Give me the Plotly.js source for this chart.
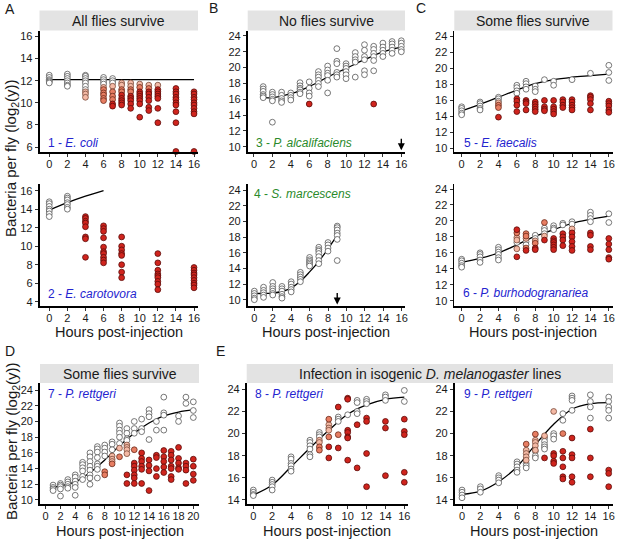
<!DOCTYPE html>
<html>
<head>
<meta charset="utf-8">
<script src="https://cdn.plot.ly/plotly-3.0.1.min.js"></script>
<style>html,body{margin:0;padding:0;background:#fff;}#chart{width:617px;height:540px;}</style>
</head>
<body>
<div id="chart"></div>
<script>
// ---------------- DATA ----------------
// Each series: list of [hour, [log2 bacteria values...]]
// W = surviving (white), P = light pink, S = salmon, R = red (dead flies)

// Panel 1 - E. coli
const p1W = [[0,[12.5,12.3,12.1,12.0,11.9,11.8]],[2,[12.6,12.4,12.2,12.0,11.8,11.6,11.5]],[4,[12.5,12.4,12.2,12.0,11.8,11.5,11.2]],[6,[12.3,12.1,11.9,11.7]],[7,[12.2,12.0,11.8]]];
const p1P = [[4,[11.0,10.8,10.5]],[6,[11.4]],[7,[11.5]],[8,[11.8,11.6]],[9,[11.8,11.5]],[10,[11.7]],[11,[11.6]],[12,[11.6]]];
const p1S = [[6,[11.2,10.9,10.7,10.4,10.2]],[7,[11.0,10.6,10.3]],[8,[11.2,11.0]],[9,[11.2,11.0]],[10,[11.4]],[11,[11.3]]];
const p1R = [[7,[9.9,9.7]],[8,[10.7,10.4,10.2,10.0,9.8]],[9,[10.6,10.4,10.2,9.9,9.5]],[10,[11.0,10.8,10.6,10.4,10.2,9.9,8.7]],[11,[11.0,10.8,10.5,10.2,9.6,9.3]],[12,[11.2,11.0,10.8,10.6,10.4,9.5,8.2]],[14,[11.3,11.0,10.8,10.5,10.3,10.0,9.8,9.2,8.2,5.6]],[16,[11.0,10.8,10.5,10.3,10.0,9.8,9.5,9.2,9.0,5.6]]];
const c1x = [0,16], c1y = [12.1,12.1];

// Panel 2 - E. carotovora
const p2W = [[0,[14.8,14.6,14.3,14.0,13.8,13.5,13.2]],[2,[15.4,15.2,15.0,14.7,14.5,14.2,14.0]]];
const p2R = [[4,[13.2,13.0,12.7,12.5,12.1,11.0,10.8,8.8]],[6,[12.2,11.9,11.6,10.9,9.9,9.4,9.2,8.8,8.5,8.2]],[8,[11.0,10.0,9.6,9.2,9.0,8.0,7.2,6.6]],[12,[9.2,8.2,7.4,7.0,6.8,6.6,6.2,5.9,5.3]],[16,[7.7,7.4,7.1,6.9,6.6,6.3,6.0,5.8,5.5]]];
const c2x = [0,2,4,6], c2y = [13.9,14.7,15.4,16.0];

// Panel 3 - P. alcalifaciens
const p3W = [[1,[17.6,17.3,17.0,16.6,16.4,16.2]],[2,[16.9,16.6,16.3,16.0,15.8,13.1]],[3,[16.9,16.5,16.1,15.8,15.6]],[4,[16.8,16.5,16.2,15.9]],[5,[18.1,17.7,17.4,17.2,16.9,16.7]],[6,[18.2,17.4,16.8,16.4]],[7,[19.5,19.1,18.8,18.4,18.0,17.6]],[8,[20.2,19.7,19.3,19.0,18.4,16.8]],[9,[22.4,20.8,20.5,19.4,19.1,18.8]],[10,[20.5,20.2,19.9,19.5,19.1,18.6]],[11,[21.9,21.4,21.0,20.7,18.8]],[12,[22.9,22.2,21.4,21.0,19.6,19.1]],[13,[22.7,22.3,21.8,21.4,20.9,19.6]],[14,[23.1,22.6,22.2,21.8,21.4]],[15,[23.3,23.0,22.6,22.2,21.8]],[16,[23.4,23.1,22.7,22.3,22.0]]];
const p3R = [[6,[15.4]],[13,[15.4]]];
const c3x = [1,2,3,4,5,6,8,10,12,14,16], c3y = [16.2,16.2,16.4,16.7,17.1,17.6,18.8,19.9,21.0,22.0,22.6];

// Panel 4 - S. marcescens
const p4W = [[0,[11.1,10.8,10.5,10.2,10.0]],[1,[11.6,11.2,10.9,10.6,10.3]],[2,[12.2,11.7,11.4,11.1,10.8,10.6]],[3,[11.7,11.4,11.1,10.7,10.4,10.2]],[4,[12.3,12.0,11.6,11.3,11.0]],[5,[13.5,13.2,12.9,12.6,12.3]],[6,[15.4,15.1,14.9,14.7,14.5,14.3]],[7,[16.7,16.4,16.2,15.9,15.5,15.0,14.6]],[8,[17.3,17.0,16.6,16.2]],[9,[19.4,19.2,18.9,18.5,18.2,17.7,15.0]]];
const c4x = [0,1,2,3,4,5,6,7,8,9], c4y = [10.8,10.8,10.85,11.05,11.5,12.35,13.55,14.9,16.5,18.2];

// Panel 5 - E. faecalis
const p5W = [[0,[15.2,15.0,14.7,14.4,14.2]],[2,[15.8,15.6,15.3,15.0,14.8]],[4,[16.4,16.2,15.9]],[6,[17.9,17.6,17.2,16.9]],[7,[18.4,18.1,17.7,17.4]],[8,[17.8,17.4,17.1]],[9,[18.6]],[10,[18.4,17.9]],[12,[18.6]],[14,[19.4]],[16,[20.4,19.5,18.5]]];
const p5P = [[4,[15.7]]];
const p5S = [[4,[15.4,15.1]]];
const p5R = [[4,[13.9]],[6,[16.2,15.9,15.4,14.6]],[7,[16.0,15.8,15.6,14.8]],[8,[15.8,15.5,15.2,14.9,14.6]],[9,[16.0,15.2,14.9,14.7]],[10,[16.0,15.2,14.9,14.6,14.3]],[11,[16.1,15.8,15.4,15.1]],[12,[16.1,15.8,15.4,15.1,14.8]],[14,[16.6,16.4,16.1,15.6,14.8]],[16,[15.9,15.6,15.3,14.8,14.5]]];
const c5x = [0,2,4,6,8,10,12,14,16], c5y = [14.7,15.5,16.4,17.3,18.1,18.6,18.9,19.1,19.3];

// Panel 6 - P. burhodogranariea
const p6W = [[0,[15.2,15.0,14.7,14.4,14.2]],[2,[16.0,15.8,15.5,15.1,14.8]],[4,[16.7,16.4,16.1,15.8,15.4,15.1]],[6,[17.3]],[7,[17.4,17.0]],[8,[18.2,17.8]],[9,[19.1,18.8,18.4]],[10,[19.4,19.1,18.9]],[11,[19.7,19.5]],[12,[19.9,19.6]],[14,[21.1,20.7,20.3,19.9]],[16,[20.9,19.8]]];
const p6P = [[6,[17.9,17.6,16.5]],[7,[17.8]],[8,[17.5]],[9,[18.1]],[12,[19.0]]];
const p6S = [[6,[18.5]],[7,[18.4,18.1,16.6]],[8,[17.2]],[9,[19.8]]];
const p6R = [[6,[18.9,15.5]],[7,[16.3]],[8,[16.6,16.4]],[9,[17.6]],[10,[17.8,17.5,17.3,17.0,16.7,16.4]],[11,[18.4,18.0,17.6,16.9]],[12,[18.5,18.0,17.4,16.8,16.3]],[14,[18.5,18.2,16.8,16.4]],[16,[17.8,17.1,16.4,15.4,15.2]]];
const c6x = [0,2,4,6,8,10,12,14,16], c6y = [14.8,15.3,16.0,17.0,18.1,18.9,19.7,20.2,20.6];

// Panel 7 - P. rettgeri (some flies survive)
const p7W = [[1,[11.9,11.6,11.4,11.2]],[2,[12.1,11.9,11.7,11.4,10.5]],[3,[12.6,12.3,12.0,11.7,11.5]],[4,[13.2,12.9,12.4,12.0,11.6,10.6]],[5,[14.8,14.5,14.1,13.7,13.0,12.6]],[6,[16.0,15.5,14.9,14.3,13.8,13.2,12.8,12.0]],[7,[16.8,16.5,16.1,15.4,14.6,14.3,13.9,12.8]],[8,[17.0,16.6,16.1,15.6]],[9,[17.4,17.1,16.4]],[10,[19.8,19.4,18.9,18.5,18.0,17.2]],[11,[19.1,18.5,17.8,17.6]],[12,[20.0,19.1,18.5]],[13,[20.3,19.1,18.7]],[14,[21.5,21.0,20.6,17.7]],[15,[20.0,18.9]],[16,[23.1,21.1,20.8,18.9]],[18,[20.7,20.0]],[19,[23.1,22.3]],[20,[22.5,21.4,20.5]]];
const p7P = [[9,[15.6,15.2,14.9]],[10,[16.6]],[11,[17.0,16.7,16.4,15.9]]];
const p7S = [[8,[13.6,13.2]],[9,[14.6]],[10,[15.5]],[12,[16.4]]];
const p7R = [[11,[13.2,12.1]],[12,[14.7,14.3,13.8,13.2,12.8,12.1]],[13,[16.0,15.3,14.9,14.3,13.9,12.1]],[14,[15.1,14.4,13.7,11.2]],[15,[15.7,15.4,14.0,13.0]],[16,[16.3,15.5,14.9,14.2,13.5]],[17,[16.2,15.7,15.1,14.3,14.0,13.0,12.6]],[18,[16.7,15.3,14.7,14.1,13.9]],[19,[14.7,14.3,13.8,12.1]],[20,[15.2,14.3,13.3,12.5]]];
const c7x = [1,2,4,6,8,10,12,14,16,18,20], c7y = [11.6,11.8,12.3,13.5,15.1,16.9,18.5,19.8,20.7,21.2,21.5];

// Panel 8 - P. rettgeri (isogenic line)
const p8W = [[0,[14.9,14.7,14.5,14.4]],[2,[15.8,15.6,15.4,15.2,14.9]],[4,[17.9,17.7,17.3,17.1,16.8,16.6]],[6,[19.4,19.2,18.9,18.6,18.1,17.9]],[7,[20.1,19.9,19.7]],[9,[21.5,21.3,21.1]],[10,[21.7]],[11,[23.0,22.8,22.0,21.8]],[12,[23.1,22.9,22.7]],[14,[23.5,23.3,23.0]],[16,[23.9,22.9]]];
const p8P = [[7,[19.4,19.2]],[8,[20.8,20.5,20.3]]];
const p8S = [[7,[18.8,18.5]],[8,[21.3,19.7]],[9,[19.9]]];
const p8R = [[8,[18.8,17.8]],[9,[22.4,18.7]],[10,[23.2,23.1,20.3,20.1,19.7,19.6,17.6]],[11,[20.8,16.9]],[12,[21.4,21.1,18.2,15.2]],[14,[21.1,20.5,16.2]],[16,[21.3,20.2,19.9,16.5,15.6]]];
const c8x = [0,2,4,6,8,10,12,14,16], c8y = [14.45,15.35,17.0,18.7,20.3,21.75,22.6,23.1,23.3];

// Panel 9 - P. rettgeri (isogenic line)
const p9W = [[0,[14.9,14.7,14.45,14.2]],[2,[15.2,15.0,14.7]],[4,[16.2,16.0,15.8,15.55]],[6,[17.45,17.25,17.0,16.7,16.5]],[7,[17.3,17.1,16.9]],[8,[18.4,18.0,17.8]],[9,[19.6,19.3,19.0,18.8,18.6]],[10,[20.0,19.8,19.5]],[11,[21.8,21.2]],[12,[23.4,23.2,23.0,22.1]],[14,[23.5,22.9,22.4,21.4]],[16,[23.3,22.9,22.4,22.1,21.4]]];
const p9P = [[7,[18.5,18.2,17.9,17.6]],[8,[19.4,19.2,18.9,18.5]],[9,[19.8]],[10,[22.0]]];
const p9S = [[7,[19.05]],[8,[19.95]],[11,[20.0]]];
const p9R = [[9,[17.8]],[10,[18.2,18.0,17.5,17.3]],[11,[18.4,17.8,17.0,16.1,15.9]],[12,[19.6,18.1,17.8,16.1,15.6]],[14,[20.4,17.8,16.1]],[16,[16.7,16.4,15.2]]];
const c9x = [0,2,4,6,8,10,12,14,16], c9y = [14.5,14.8,15.65,17.0,19.0,20.85,22.2,22.7,22.8];

// Arrows (hour of last surviving fly)
const arrow3Hour = 16, arrow4Hour = 9;

// Tick labels
const xTicks16 = [0,2,4,6,8,10,12,14,16];
const xTicks20 = [0,2,4,6,8,10,12,14,16,18,20];
const yTicks1 = [6,8,10,12,14,16];
const yTicks2 = [4,6,8,10,12,14,16];
const yTicks24 = [10,12,14,16,18,20,22,24];
const yTicksE = [14,16,18,20,22,24];

// Text
const stripA = "All flies survive", stripB = "No flies survive", stripC = "Some flies survive",
      stripD = "Some flies survive", stripE = "Infection in isogenic <i>D. melanogaster</i> lines";
const labels = ["1 - <i>E. coli</i>","2 - <i>E. carotovora</i>","3 - <i>P. alcalifaciens</i>","4 - <i>S. marcescens</i>",
  "5 - <i>E. faecalis</i>","6 - <i>P. burhodogranariea</i>","7 - <i>P. rettgeri</i>","8 - <i>P. rettgeri</i>","9 - <i>P. rettgeri</i>"];
const yTitle = "Bacteria per fly (log<sub>2</sub>(y))";
const xTitle = "Hours post-injection";

// ---------------- LAYOUT / STYLE ----------------
const W = 617, H = 540;
const FONT = "Liberation Sans, Arial, Helvetica, sans-serif";
const BLUE = "#2424cf", GREEN = "#2a8a2a";
const styles = {
  W:{color:"#ffffff", line:"#555555"},
  P:{color:"#f4b9a5", line:"#7a4a3a"},
  S:{color:"#e77d62", line:"#6a2a1a"},
  R:{color:"#d0241d", line:"#5a0c0a"}
};
// panel boxes in pixels: [left, right, top, bottom]
const panels = [
  {box:[39.5,198,31,152],   xr:[-1.08,16.44], yr:[5.55,16.5], xt:xTicks16, yt:yTicks1, series:{W:p1W,P:p1P,S:p1S,R:p1R}, cx:c1x, cy:c1y, lab:[46,143,BLUE]},
  {box:[39.5,198,184,305.7],xr:[-1.08,16.44], yr:[3.57,16.72],yt:yTicks2, xt:xTicks16, series:{W:p2W,R:p2R}, cx:c2x, cy:c2y, lab:[46,294,BLUE], xtitle:true},
  {box:[247.7,405,31,151.7],xr:[-0.68,16.4],  yr:[9.37,24.63],xt:xTicks16, yt:yTicks24, series:{W:p3W,R:p3R}, cx:c3x, cy:c3y, lab:[253.5,143,GREEN]},
  {box:[247.7,405,184,306], xr:[-0.72,16.36], yr:[9.2,24.77], xt:xTicks16, yt:yTicks24, series:{W:p4W}, cx:c4x, cy:c4y, lab:[252,194,GREEN], xtitle:true},
  {box:[454.3,612.5,31,151.7],xr:[-0.8,16.4], yr:[9.57,24.7], xt:xTicks16, yt:yTicks24, series:{W:p5W,P:p5P,S:p5S,R:p5R}, cx:c5x, cy:c5y, lab:[461.5,143,BLUE]},
  {box:[454.3,612.5,184,305.7],xr:[-0.8,16.4],yr:[9.37,24.63],xt:xTicks16, yt:yTicks24, series:{W:p6W,P:p6P,S:p6S,R:p6R}, cx:c6x, cy:c6y, lab:[460.5,293,BLUE], xtitle:true},
  {box:[40,199,383,504.3],  xr:[-0.77,20.77], yr:[9.45,24.9], xt:xTicks20, yt:yTicks24, series:{W:p7W,P:p7P,S:p7S,R:p7R}, cx:c7x, cy:c7y, lab:[46,394,BLUE], xtitle:true},
  {box:[246.7,408,383,504.3],xr:[-0.7,16.39], yr:[13.61,24.57],xt:xTicks16, yt:yTicksE, series:{W:p8W,P:p8P,S:p8S,R:p8R}, cx:c8x, cy:c8y, lab:[253,394,BLUE], xtitle:true},
  {box:[454.7,613,383,504.3],xr:[-0.8,16.47], yr:[13.61,24.57],xt:xTicks16, yt:yTicksE, series:{W:p9W,P:p9P,S:p9S,R:p9R}, cx:c9x, cy:c9y, lab:[462,394,BLUE], xtitle:true}
];

const traces = [];
const layout = {
  width: W, height: H, margin:{l:0,r:0,t:0,b:0},
  paper_bgcolor:"#ffffff", plot_bgcolor:"#ffffff",
  showlegend:false, font:{family:FONT, color:"#1a1a1a"},
  shapes:[], annotations:[]
};

function flatten(series){
  const xs=[], ys=[];
  series.forEach(([h,vals])=>vals.forEach(v=>{xs.push(h); ys.push(v);}));
  return {xs, ys};
}

panels.forEach((p,i)=>{
  const n = i+1;
  const xa = n===1 ? "x" : "x"+n, ya = n===1 ? "y" : "y"+n;
  const [l,r,t,b] = p.box;
  const axCommon = {showline:true, linewidth:1.8, linecolor:"#000", ticks:"outside", ticklen:3, tickwidth:1,
                    tickcolor:"#333", showgrid:false, zeroline:false, fixedrange:true,
                    tickfont:{size:11, color:"#1a1a1a", family:FONT}};
  layout[n===1?"xaxis":"xaxis"+n] = Object.assign({}, axCommon, {domain:[l/W, r/W], range:p.xr, anchor:ya,
      tickmode:"array", tickvals:p.xt, ticktext:p.xt.map(String), ticklabelstandoff:-2});
  layout[n===1?"yaxis":"yaxis"+n] = Object.assign({}, axCommon, {domain:[1-b/H, 1-t/H], range:p.yr, anchor:xa,
      tickmode:"array", tickvals:p.yt, ticktext:p.yt.map(String)});
  // fitted curve
  traces.push({type:"scatter", mode:"lines", x:p.cx, y:p.cy, xaxis:xa, yaxis:ya,
    line:{color:"#000", width:1.3, shape:"spline", smoothing:1}, hoverinfo:"skip"});
  // points
  ["W","P","S","R"].forEach(k=>{
    if(!p.series[k]) return;
    const {xs,ys} = flatten(p.series[k]);
    traces.push({type:"scatter", mode:"markers", x:xs, y:ys, xaxis:xa, yaxis:ya, cliponaxis:false,
      marker:{size:5.8, color:styles[k].color, line:{color:styles[k].line, width:0.8}}, hoverinfo:"skip"});
  });
  // panel label
  layout.annotations.push({xref:"paper", yref:"paper", x:p.lab[0]/W, y:1-p.lab[1]/H, xanchor:"left", yanchor:"middle",
    text:labels[i], showarrow:false, font:{size:12, color:p.lab[2], family:FONT}});
  if(p.xtitle){
    const yy = (n>=7) ? 531 : 331.5;
    layout.annotations.push({xref:"paper", yref:"paper", x:((l+r)/2)/W, y:1-yy/H, xanchor:"center", yanchor:"middle",
      text:xTitle, showarrow:false, font:{size:14.5, color:"#1a1a1a", family:FONT}});
  }
});

// arrows
layout.annotations.push({xref:"x3", yref:"y3", x:arrow3Hour, y:9.55, ax:0, ay:-13, text:"", showarrow:true,
  arrowhead:2, arrowsize:1, arrowwidth:1.4, arrowcolor:"#000", standoff:0});
layout.annotations.push({xref:"x4", yref:"y4", x:arrow4Hour, y:9.4, ax:0, ay:-13, text:"", showarrow:true,
  arrowhead:2, arrowsize:1, arrowwidth:1.4, arrowcolor:"#000", standoff:0});

// strips
const strips = [[39.5,198,10.5,30.5,stripA],[247.7,405,10.5,30.5,stripB],[454.3,612.5,10.5,30.5,stripC],
                [40,199,364,383,stripD],[246.7,613,364,383,stripE]];
strips.forEach(([l,r,t,b,txt])=>{
  layout.shapes.push({type:"rect", xref:"paper", yref:"paper", x0:l/W, x1:r/W, y0:1-b/H, y1:1-t/H,
    fillcolor:"#e3e3e3", line:{width:0}, layer:"below"});
  layout.annotations.push({xref:"paper", yref:"paper", x:((l+r)/2)/W, y:1-((t+b)/2)/H, xanchor:"center", yanchor:"middle",
    text:txt, showarrow:false, font:{size:14, color:"#1a1a1a", family:FONT}});
});

// panel letters
[["A",3,9],["B",207,8],["C",414,8],["D",3,351],["E",214,351]].forEach(([t,x,y])=>{
  layout.annotations.push({xref:"paper", yref:"paper", x:x/W, y:1-y/H, xanchor:"left", yanchor:"middle",
    text:t, showarrow:false, font:{size:14, color:"#1a1a1a", family:FONT}});
});

// y axis titles
[[12,158],[12,441]].forEach(([x,y])=>{
  layout.annotations.push({xref:"paper", yref:"paper", x:x/W, y:1-y/H, xanchor:"center", yanchor:"middle",
    text:yTitle, textangle:-90, showarrow:false, font:{size:15, color:"#1a1a1a", family:FONT}});
});

Plotly.newPlot("chart", traces, layout, {staticPlot:true, displayModeBar:false});
</script>
</body>
</html>
